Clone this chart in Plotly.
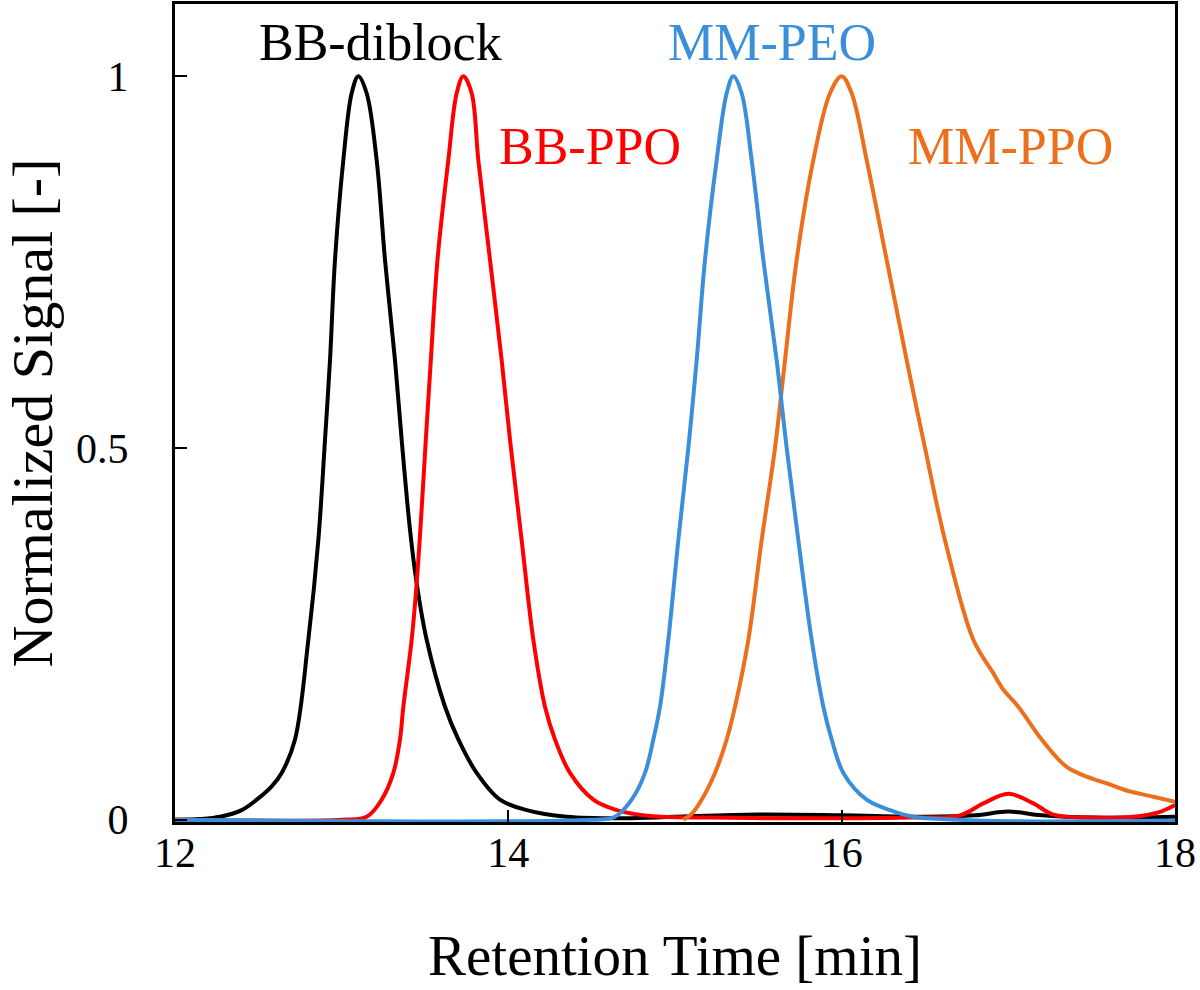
import plotly.graph_objects as go

# Retention time [min] and normalized signal for each trace
bb_diblock_x = [12.00, 12.15, 12.27, 12.40, 12.49, 12.58, 12.64, 12.72, 12.80, 12.86, 12.90,
                12.93, 12.96, 13.01, 13.06, 13.10, 13.15, 13.21, 13.26, 13.32, 13.36, 13.41,
                13.45, 13.51, 13.62, 13.70, 13.81, 13.95, 14.11, 14.35, 14.70, 15.00, 15.50,
                16.00, 16.50, 16.80, 17.00, 17.20, 17.50, 18.00]
bb_diblock_y = [0.000, 0.001, 0.004, 0.013, 0.027, 0.045, 0.063, 0.108, 0.242, 0.376, 0.511,
                0.618, 0.753, 0.887, 0.977, 1.000, 0.977, 0.887, 0.753, 0.618, 0.511, 0.390,
                0.318, 0.242, 0.152, 0.108, 0.063, 0.027, 0.013, 0.004, 0.002, 0.004, 0.007,
                0.006, 0.004, 0.006, 0.011, 0.006, 0.003, 0.004]

bb_ppo_x = [12.00, 13.00, 13.15, 13.24, 13.31, 13.35, 13.37, 13.42, 13.45, 13.475, 13.505,
            13.535, 13.575, 13.64, 13.69, 13.73, 13.78, 13.82, 13.89, 13.96, 14.01, 14.08,
            14.15, 14.22, 14.28, 14.37, 14.51, 14.65, 14.85, 15.20, 15.60, 16.00, 16.40,
            16.71, 16.85, 17.00, 17.15, 17.27, 17.50, 17.75, 17.90, 18.00]
bb_ppo_y = [0.000, 0.000, 0.004, 0.027, 0.063, 0.108, 0.152, 0.242, 0.318, 0.400, 0.511,
            0.618, 0.753, 0.887, 0.977, 1.000, 0.977, 0.887, 0.753, 0.618, 0.511, 0.376,
            0.242, 0.152, 0.108, 0.063, 0.027, 0.013, 0.005, 0.003, 0.002, 0.002, 0.003,
            0.006, 0.022, 0.035, 0.022, 0.007, 0.003, 0.004, 0.010, 0.020]

mm_ppo_x = [15.05, 15.10, 15.16, 15.24, 15.31, 15.36, 15.44, 15.52, 15.60, 15.66, 15.73,
            15.83, 15.93, 16.00, 16.06, 16.15, 16.27, 16.39, 16.50, 16.62, 16.79, 16.91,
            16.97, 17.06, 17.20, 17.35, 17.47, 17.59, 17.70, 17.87, 18.00]
mm_ppo_y = [0.000, 0.008, 0.027, 0.063, 0.108, 0.152, 0.242, 0.376, 0.500, 0.618, 0.753,
            0.887, 0.977, 1.000, 0.977, 0.887, 0.753, 0.618, 0.500, 0.376, 0.242, 0.197,
            0.175, 0.152, 0.108, 0.071, 0.058, 0.049, 0.040, 0.031, 0.024]

mm_peo_x = [12.00, 14.50, 14.64, 14.74, 14.82, 14.87, 14.91, 14.96, 15.02, 15.08, 15.13,
            15.18, 15.25, 15.31, 15.35, 15.40, 15.46, 15.53, 15.61, 15.67, 15.74, 15.82,
            15.89, 15.94, 16.01, 16.15, 16.29, 16.43, 16.70, 17.00, 17.50, 18.00]
mm_peo_y = [0.000, 0.000, 0.004, 0.027, 0.063, 0.108, 0.152, 0.242, 0.376, 0.500, 0.618,
            0.753, 0.887, 0.977, 1.000, 0.977, 0.887, 0.753, 0.618, 0.500, 0.376, 0.242,
            0.152, 0.108, 0.063, 0.027, 0.013, 0.004, 0.000, -0.002, -0.002, -0.001]

series_names = ["BB-diblock", "BB-PPO", "MM-PPO", "MM-PEO"]
series_colors = ["#000000", "#FF0000", "#EB6F1C", "#3A8FD8"]
series_x = [bb_diblock_x, bb_ppo_x, mm_ppo_x, mm_peo_x]
series_y = [bb_diblock_y, bb_ppo_y, mm_ppo_y, mm_peo_y]

# label positions (data coords)
label_x = [13.23, 14.49, 17.01, 15.58]
label_y = [1.045, 0.905, 0.905, 1.045]

x_ticks = [12, 14, 16, 18]
y_ticks = [0, 0.5, 1]
y_tick_text = ["0", "0.5", "1"]

FONT = "Liberation Serif, Times New Roman, serif"

fig = go.Figure()
for name, col, xs, ys in zip(series_names, series_colors, series_x, series_y):
    fig.add_trace(go.Scatter(x=xs, y=ys, mode="lines", name=name,
                             line=dict(color=col, width=4, shape="spline", smoothing=1.0),
                             showlegend=False))

for name, col, lx, ly in zip(series_names, series_colors, label_x, label_y):
    fig.add_annotation(x=lx, y=ly, text=name, showarrow=False,
                       font=dict(family=FONT, size=52, color=col),
                       xanchor="center", yanchor="middle")

fig.update_layout(
    width=1200, height=990,
    margin=dict(l=175, r=25, t=4, b=168),
    plot_bgcolor="white", paper_bgcolor="white",
    font=dict(family=FONT, color="black"),
)
fig.update_xaxes(range=[12, 18], tickvals=x_ticks, ticktext=[str(v) for v in x_ticks],
                 ticks="inside", ticklen=12, tickwidth=2, tickcolor="black",
                 showline=True, linecolor="black", linewidth=3, mirror=True,
                 showgrid=False, zeroline=False, automargin=False,
                 ticklabelstandoff=-8,
                 tickfont=dict(family=FONT, size=42, color="black"),
                 title=dict(text="Retention Time [min]", font=dict(family=FONT, size=57, color="black"),
                            standoff=60))
fig.update_yaxes(range=[-0.003, 1.097], tickvals=y_ticks, ticktext=y_tick_text,
                 ticks="inside", ticklen=12, tickwidth=2, tickcolor="black",
                 showline=True, linecolor="black", linewidth=3, mirror=True,
                 showgrid=False, zeroline=False, automargin=False,
                 ticklabelstandoff=35,
                 tickfont=dict(family=FONT, size=42, color="black"),
                 title=dict(text="Normalized Signal [-]", font=dict(family=FONT, size=58, color="black"),
                            standoff=10))

fig.write_html("out.html", config={"displayModeBar": False},
               post_script="document.body.style.margin='0px';")
